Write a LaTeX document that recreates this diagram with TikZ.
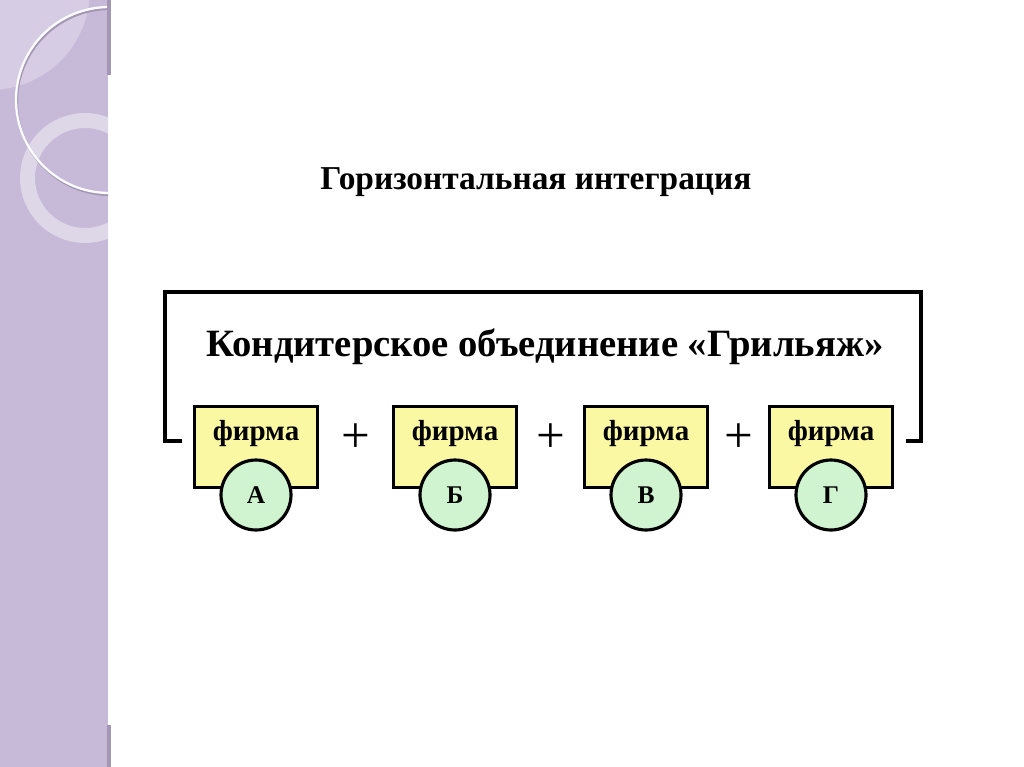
\documentclass[tikz,border=0pt]{standalone}
\usepackage{fontspec}
\setmainfont{Liberation Serif}
\usetikzlibrary{calc, positioning}
\definecolor{Lilac}  {HTML}{C7BAD9}
\definecolor{LilacL} {HTML}{D6CDE4}
\definecolor{LilacD} {HTML}{A397B3}
\definecolor{RingW}  {HTML}{DDD7E7}
\definecolor{FirmY}  {HTML}{FAF8A2}
\definecolor{FirmG}  {HTML}{D0F4D0}
\tikzset{
  firm/.style={
    rectangle, draw=black, fill=FirmY,
    line width=1.8pt, inner sep=0pt,
    minimum width=2.46cm, minimum height=1.62cm,
  },
  firmc/.style={
    circle, draw=black, fill=FirmG,
    line width=1.8pt, inner sep=0pt, minimum size=1.4cm,
    font=\fontsize{14.5}{16}\selectfont\bfseries,
  },
  lbl/.style={
    font=\fontsize{16.5}{18}\selectfont\bfseries, inner sep=0pt,
  },
  ttl/.style={
    font=\fontsize{19}{22}\selectfont\bfseries, inner sep=0pt,
  },
  subttl/.style={
    font=\fontsize{22}{25}\selectfont\bfseries, inner sep=0pt,
  },
  plus/.style={
    font=\fontsize{29}{29}\selectfont, inner sep=0pt,
  },
  brk/.style={line width=2.3pt},
}
\begin{document}
\begin{tikzpicture}[x=0.02cm,y=-0.02cm]
  \useasboundingbox (0,0) rectangle (1024,767);
  \fill[white] (0,0) rectangle (1024,767);
  % side strip
  \begin{scope}
    \clip (0,0) rectangle (108,767);
    \fill[Lilac] (0,0) rectangle (108,767);
    \fill[LilacL] (-10,-10) circle[radius=2cm];
    \draw[RingW, line width=0.3cm] (85,178) circle[radius=1.15cm];
    \draw[LilacD, line width=1.2pt] (110,102) circle[radius=1.86cm];
    \draw[white!95!Lilac, line width=1.3pt] (109,100) circle[radius=1.86cm];
  \end{scope}
  \fill[LilacD] (107,0) rectangle (111,75);
  \fill[LilacD] (107,725) rectangle (111,767);

  \node[ttl, anchor=base] (title) at (536,189) {Горизонтальная интеграция};
  \node[subttl, anchor=base] (group) at (545,356)
       {Кондитерское объединение «Грильяж»};

  % firms
  \foreach \nm/\xi/\ltr in {A/256/А, B/455/Б, V/646/В, G/831/Г}{
    \node[firm] (f\nm) at (\xi,447) {};
    \node[lbl, anchor=base] (l\nm) at ($(f\nm.north)+(0,36)$) {фирма};
    \node[firmc] (c\nm) at (\xi,495) {\ltr};
  }
  \node[plus] (p1) at ($(fA.east)!0.5!(fB.west)+(0,-9)$) {+};
  \node[plus] (p2) at ($(fB.east)!0.5!(fV.west)+(0,-9)$) {+};
  \node[plus] (p3) at ($(fV.east)!0.5!(fG.west)+(0,-9)$) {+};

  % bracket
  \coordinate (stubL) at (182,441);
  \coordinate (topL)  at (165,292);
  \coordinate (topR)  at (921,292);
  \coordinate (stubR) at (906,441);
  \draw[brk] (stubL) -| (topL) -- (topR) |- (stubR);
\end{tikzpicture}
\end{document}
